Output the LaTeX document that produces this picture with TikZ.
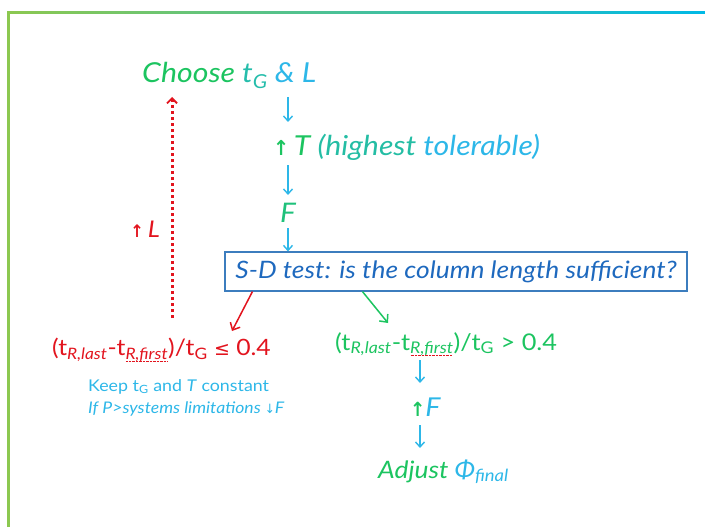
\documentclass[tikz,border=0pt]{standalone}
\usepackage{fontspec}
\setmainfont[FakeStretch=1.1]{Lato}
\newfontfamily\symfont{DejaVu Sans}
\usetikzlibrary{arrows.meta,calc}
\definecolor{tgreen}{RGB}{28,196,96}
\definecolor{tcyan}{RGB}{45,183,232}
\definecolor{tred}{RGB}{226,20,30}
\definecolor{boxblue}{RGB}{60,125,190}
\definecolor{boxtext}{RGB}{30,105,190}
\definecolor{fgreen}{RGB}{140,200,80}
\definecolor{fcyan}{RGB}{0,185,230}
\newcommand\sbs[1]{\textsubscript{#1}}
\newcommand\upa{{\symfont\bfseries\scalebox{0.7}[0.75]{↑}}}
\newcommand\downa{{\symfont\scalebox{0.75}[0.8]{↓}}}
\newcommand\wavy[1]{\setbox0\hbox{#1}\rlap{\usebox0}{\color{tred}\raisebox{-2pt}{\hbox to \wd0{\leaders\hbox to 1.4pt{\hss\rule{0.7pt}{0.6pt}\hss}\hfill}}}}
\tikzset{
  lbl/.style={inner sep=0pt},
  carrow/.style={draw=tcyan, line width=1.4pt, -{Straight Barb[length=5pt,width=9pt]}},
  rarrow/.style={draw=tred, line width=1.5pt, -{Straight Barb[length=6pt,width=11pt]}},
  garrow/.style={draw=tgreen, line width=1.5pt, -{Straight Barb[length=6pt,width=11pt]}},
  dotarrow/.style={draw=tred, line width=3pt, dash pattern=on 3pt off 3pt, -{Straight Barb[length=5pt,width=10pt,line width=1.8pt]}},
}
\begin{document}
\begin{tikzpicture}[x=1pt,y=-1pt]
\useasboundingbox (0,0) rectangle (705,527);
% frame
\shade[left color=fgreen, right color=fcyan] (7,11.5) rectangle (705,14);
\fill[fgreen] (7,11.5) rectangle (9.5,527);

\coordinate (col) at (288,0);
\coordinate (col2) at (420,0);
\coordinate (dcol) at (172,0);

\node[lbl, anchor=base west, font=\itshape\fontsize{27.5}{30}\selectfont] (choose) at (142,83)
  {\color{tgreen}Choose \color{tgreen!45!tcyan}t\sbs{G} \color{tcyan}\& L};
\node[lbl, anchor=base west, font=\itshape\fontsize{27.5}{30}\selectfont] (tline) at (273,155)
  {\color{tgreen}\upa\,T \color{tgreen!50!tcyan}(highest \color{tcyan}tolerable)};
\node[lbl, anchor=base, font=\itshape\fontsize{27}{30}\selectfont, text=tgreen!80!tcyan] (f1) at (288,222) {F};
\node[draw=boxblue, line width=1.1pt, minimum width=462pt, minimum height=39pt, inner sep=0pt,
      font=\itshape\fontsize{24}{28}\selectfont, text=boxtext] (box) at (456,271.5)
  {S-D test: is the column length sufficient?};
\node[lbl, anchor=base east, font=\itshape\fontsize{23}{26}\selectfont, text=tred] (upl) at (160,237) {\upa\,L};

\node[lbl, anchor=base west, font=\fontsize{22.5}{26}\selectfont, text=tred] (redf) at (52,355)
  {(t\sbs{\itshape R,last}-t\sbs{\wavy{\itshape R,first}})/t\sbs{G} {\symfont\fontsize{19}{22}\selectfont ≤} 0.4};
\node[lbl, anchor=base west, font=\fontsize{16.2}{18}\selectfont, text=tcyan] (keep) at (88,391)
  {Keep t\sbs{G} and \textit{T} constant};
\node[lbl, anchor=base west, font=\itshape\fontsize{16}{18}\selectfont, text=tcyan] (ifp) at (88,413)
  {If P>systems limitations \downa F};

\node[lbl, anchor=base west, font=\fontsize{23}{26}\selectfont, text=tgreen] (greenf) at (335,350)
  {(t\sbs{\itshape R,last}-t\sbs{\wavy{\itshape R,first}})/t\sbs{G} > 0.4};
\node[lbl, anchor=base west, font=\itshape\fontsize{26}{30}\selectfont] (upf) at (410,416)
  {\color{tgreen}\upa\color{tcyan}F};
\node[lbl, anchor=base west, font=\itshape\fontsize{24}{28}\selectfont] (adjust) at (378,478)
  {\color{tgreen}Adjust \color{tcyan}Φ\sbs{final}};

% connectors
\draw[carrow] ($(choose.base -| col)+(0,14)$) -- ($(tline.base -| col)+(0,-33)$);
\draw[carrow] ($(tline.base -| col)+(0,10)$) -- ($(f1.base -| col)+(0,-27)$);
\draw[carrow] ($(f1.base -| col)+(0,6)$) -- (box.north -| col);
\draw[dotarrow] ($(redf.base -| dcol)+(0,-37)$) -- ($(choose.base -| dcol)+(0,14)$);
\draw[rarrow] ($(box.south west)+(28,0)$) -- ($(redf.base west)+(180,-24)$);
\draw[garrow] ($(box.south west)+(138,0)$) -- ($(greenf.base west)+(53,-27)$);
\draw[carrow] ($(greenf.base -| col2)+(0,10)$) -- ($(upf.base -| col2)+(0,-33)$);
\draw[carrow] ($(upf.base -| col2)+(0,9)$) -- ($(adjust.base -| col2)+(0,-30)$);
\end{tikzpicture}
\end{document}
